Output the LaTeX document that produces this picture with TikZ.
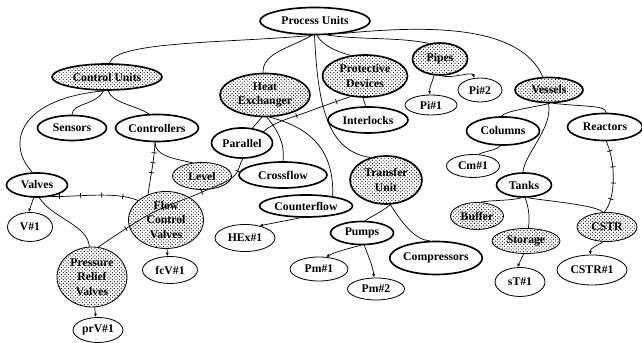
\documentclass[tikz,border=0pt]{standalone}
\usepackage{fontspec}
\setmainfont{Liberation Serif}
\usetikzlibrary{shapes.geometric, patterns, decorations.markings, arrows.meta, backgrounds}

\begin{document}
\begin{tikzpicture}[x=0.3mm, y=0.3mm,
    every node/.style={font=\fontsize{10}{12.5}\selectfont\bfseries, align=center, inner sep=0pt},
    sz/.style n args={2}{minimum width=#1mm, minimum height=#2mm},
    kind/.style={ellipse, draw, line width=1.4pt, fill=white},
    kinddot/.style={ellipse, draw, line width=1.4pt, pattern=crosshatch dots},
    part/.style={ellipse, draw, line width=0.7pt, pattern=crosshatch dots},
    item/.style={ellipse, draw, line width=0.7pt, fill=white},
    link/.style={line width=0.6pt},
    inst/.style={line width=0.6pt, -{Latex[length=3pt, width=2.6pt]}},
    ticked/.style={line width=0.6pt, postaction={decorate},
        decoration={markings, mark=between positions #1 with {\draw[line width=0.6pt] (0,-2.2pt) -- (0,2.2pt);}}}]
    \useasboundingbox (0,0) rectangle (642,343);

    % top
    \node[kind, sz={33}{8.1}] (proc) at (315,322) {Process Units};
    \node[kinddot, sz={33}{7.8}] (ctrl) at (107,266) {Control Units};
    \node[kinddot, sz={27}{12.9}] (hex) at (265,248) {Heat\\Exchanger};
    \node[kinddot, sz={25.5}{12.6}] (prot) at (365,267) {Protective\\Devices};
    \node[kinddot, sz={16.5}{9.6}] (pipes) at (440,284) {Pipes};
    \node[kinddot, sz={20.4}{7.5}] (vess) at (549,253) {Vessels};
    \node[item, sz={15.6}{6}] (pi1) at (431,238) {Pi\#1};
    \node[item, sz={13.2}{7.2}] (pi2) at (480,253) {Pi\#2};
    \node[kind, sz={24}{7.8}] (intl) at (368,223) {Interlocks};

    % control side
    \node[kind, sz={20.7}{7.5}] (sens) at (72,215) {Sensors};
    \node[kind, sz={24.9}{8.1}] (ctls) at (157,215) {Controllers};
    \node[part, sz={17.7}{8.1}] (lev) at (202,167) {Level};
    \node[kind, sz={18.3}{7.2}] (valv) at (37,158) {Valves};
    \node[item, sz={13.5}{8.7}] (v1) at (30,116) {V\#1};
    \node[part, sz={22.5}{17.1}] (fcv) at (166,123) {Flow\\Control\\Valves};
    \node[part, sz={21}{18}] (prv) at (92,66) {Pressure\\Relief\\Valves};
    \node[item, sz={16.5}{8.1}] (fcv1) at (170,73) {fcV\#1};
    \node[item, sz={15}{7.5}] (prv1) at (98,13) {prV\#1};

    % heat exchangers and transfer
    \node[kind, sz={18.3}{9}] (par) at (242,200) {Parallel};
    \node[kind, sz={26.4}{7.8}] (cross) at (283,168) {Crossflow};
    \node[kind, sz={27.9}{6.6}] (counter) at (306,137) {Counterflow};
    \node[item, sz={18}{8.1}] (hex1) at (245,105) {HEx\#1};
    \node[kinddot, sz={21.6}{14.4}] (trans) at (386,163) {Transfer\\Unit};
    \node[kind, sz={18.9}{6.9}] (pumps) at (362,110) {Pumps};
    \node[item, sz={17.4}{7.2}] (pm1) at (319,74) {Pm\#1};
    \node[item, sz={17.1}{6.6}] (pm2) at (376,54) {Pm\#2};
    \node[kind, sz={25.8}{9.9}] (comp) at (436,85) {Compressors};

    % vessels
    \node[kind, sz={21.9}{8.4}] (col) at (503,212) {Columns};
    \node[kind, sz={22.5}{8.1}] (reac) at (605,216) {Reactors};
    \node[item, sz={15.9}{6.9}] (cm1) at (473,177) {Cm\#1};
    \node[kind, sz={16.5}{7.2}] (tanks) at (524,158) {Tanks};
    \node[part, sz={15.9}{8.1}] (buf) at (477,127) {Buffer};
    \node[part, sz={20.4}{7.5}] (stor) at (526,102) {Storage};
    \node[item, sz={15}{8.7}] (st1) at (520,61) {sT\#1};
    \node[part, sz={18}{8.7}] (cstr) at (607,116) {CSTR};
    \node[item, sz={21}{9}] (cstr1) at (592,73) {CSTR\#1};

    \begin{scope}[on background layer]
    \draw[link] (proc.262) .. controls (230,300) and (115,302) .. (ctrl.80);
    \draw[link] (proc.258) .. controls (290,295) and (262,290) .. (hex.95);
    \draw[link] (proc.268) .. controls (318,230) and (330,192) .. (trans.125);
    \draw[link] (proc.278) .. controls (322,298) and (335,292) .. (prot.125);
    \draw[link] (proc.310) .. controls (360,303) and (400,306) .. (pipes.125);
    \draw[link] (proc.335) .. controls (430,318) and (520,318) .. (vess.115);

    \draw[link] (ctrl.255) .. controls (97,238) and (72,240) .. (sens.90);
    \draw[link] (ctrl.275) .. controls (112,240) and (135,238) .. (ctls.120);
    \draw[link] (ctrl.262) .. controls (20,245) and (5,200) .. (valv.110);
    \draw[link] (ctls.262) .. controls (155,188) and (170,185) .. (lev.125);
    \draw[ticked={0.2 and 0.65 step 0.19}] (ctls.262) .. controls (154,180) and (150,165) .. (fcv.125);
    \draw[ticked={0.1 and 0.85 step 0.24}] (valv.-40) .. controls (80,146) and (115,152) .. (fcv.145);
    \draw[inst] (valv.255) -- (v1.95);
    \draw[link] (valv.280) .. controls (52,125) and (88,118) .. (prv.95);
    \draw[inst] (fcv.272) -- (fcv1.100);
    \draw[inst] (prv.275) -- (prv1.100);

    \draw[link] (prot.265) -- (intl.100);
    \draw[ticked={0.05 and 0.95 step 0.14}] plot[smooth, tension=0.6] coordinates
        {(prot.235) (310,232) (268,215) (244,186) (233,166) (200,150) (150,129) (prv.78)};
    \draw[inst] (pipes.250) .. controls (432,260) and (429,255) .. (pi1.95);
    \draw[inst] (pipes.275) .. controls (452,264) and (472,272) .. (pi2.115);

    \draw[link] (hex.262) -- (par.55);
    \draw[link] (hex.275) .. controls (278,212) and (285,200) .. (cross.90);
    \draw[link] (hex.282) .. controls (312,215) and (334,192) .. (counter.20);
    \draw[inst] (counter.245) -- (hex1.40);
    \draw[link] (trans.280) .. controls (380,130) and (370,126) .. (pumps.75);
    \draw[link] (trans.280) .. controls (402,120) and (415,103) .. (comp.110);
    \draw[inst] (pumps.265) .. controls (350,95) and (335,91) .. (pm1.60);
    \draw[inst] (pumps.280) .. controls (368,88) and (373,76) .. (pm2.100);

    \draw[link] (vess.275) .. controls (530,235) and (505,232) .. (col.95);
    \draw[link] (vess.268) .. controls (553,215) and (525,190) .. (tanks.95);
    \draw[link] (vess.285) .. controls (585,236) and (606,238) .. (reac.85);
    \draw[link] (col.260) .. controls (495,192) and (485,192) .. (cm1.65);
    \draw[link] (tanks.260) .. controls (510,142) and (490,143) .. (buf.75);
    \draw[link] (tanks.275) .. controls (529,135) and (530,124) .. (stor.80);
    \draw[link] (tanks.285) .. controls (555,141) and (595,138) .. (cstr.105);
    \draw[ticked={0.14 and 0.85 step 0.22}] (reac.275) .. controls (616,180) and (616,145) .. (cstr.100);
    \draw[inst] (stor.260) -- (st1.100);
    \draw[inst] (cstr.255) .. controls (595,96) and (590,95) .. (cstr1.95);
    \end{scope}
\end{tikzpicture}
\end{document}
